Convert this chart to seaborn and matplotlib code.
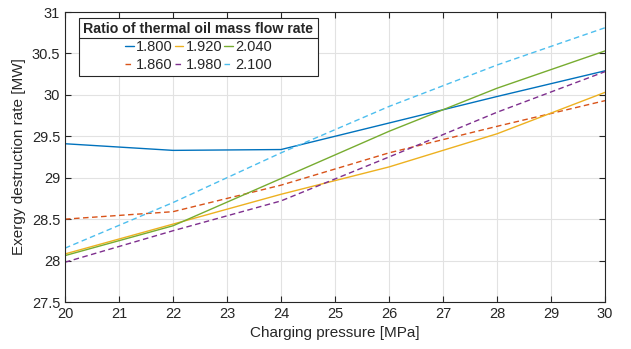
import matplotlib
matplotlib.use("Agg")
from matplotlib import pyplot as plt
import numpy as np
import pandas as pd
import seaborn as sns

# charging pressure [MPa]
pressure = [20, 22, 24, 26, 28, 30]

# exergy destruction rate [MW] for each mass flow ratio
ratio_labels = ["1.800", "1.860", "1.920", "1.980", "2.040", "2.100"]
ed_1800 = [29.41, 29.33, 29.34, 29.66, 29.98, 30.29]
ed_1860 = [28.50, 28.59, 28.91, 29.30, 29.62, 29.93]
ed_1920 = [28.08, 28.44, 28.80, 29.13, 29.53, 30.03]
ed_1980 = [27.98, 28.36, 28.72, 29.25, 29.79, 30.28]
ed_2040 = [28.06, 28.42, 28.99, 29.56, 30.08, 30.53]
ed_2100 = [28.15, 28.70, 29.30, 29.86, 30.36, 30.81]

series = [ed_1800, ed_1860, ed_1920, ed_1980, ed_2040, ed_2100]
colors = ["#0072BD", "#D95319", "#EDB120", "#7E2F8E", "#77AC30", "#4DBEEE"]

rows = []
for label, values in zip(ratio_labels, series):
    for p, v in zip(pressure, values):
        rows.append({"pressure": p, "ed": v, "ratio": label})
df = pd.DataFrame(rows)

sns.set_style("ticks")
plt.rcParams['font.family'] = ['Liberation Sans', 'DejaVu Sans']

fig = plt.figure(figsize=(6.31, 3.49), dpi=100)
ax = fig.add_axes([65 / 631, 47 / 349, 540 / 631, 290 / 349])

dash_map = {lab: ("" if i % 2 == 0 else (4, 2.5)) for i, lab in enumerate(ratio_labels)}
sns.lineplot(data=df, x="pressure", y="ed", hue="ratio", style="ratio",
             palette=dict(zip(ratio_labels, colors)), dashes=dash_map,
             linewidth=1.0, ax=ax)

ax.set_xlim(20, 30)
ax.set_ylim(27.5, 31)
ax.set_xticks(np.arange(20, 31, 1))
ax.set_yticks(np.arange(27.5, 31.01, 0.5))
ax.set_yticklabels(["27.5", "28", "28.5", "29", "29.5", "30", "30.5", "31"])
ax.grid(True, color="#e2e2e2", linewidth=0.8)
ax.set_axisbelow(True)
for s in ax.spines.values():
    s.set_color("#262626")
    s.set_linewidth(0.8)
ax.tick_params(direction="in", top=True, right=True, length=4,
               labelsize=10.5, colors="#262626")
ax.set_xlabel("Charging pressure [MPa]", fontsize=11, color="#262626")
ax.set_ylabel("Exergy destruction rate [MW]", fontsize=11, color="#262626")

handles, labels = ax.get_legend_handles_labels()
leg = ax.legend(handles, labels, ncol=3, loc="upper left",
                bbox_to_anchor=(0.026, 0.979), borderaxespad=0,
                title="Ratio of thermal oil mass flow rate",
                title_fontproperties={"weight": "bold", "size": 10.2},
                fontsize=10.5, handlelength=0.6, handletextpad=0.15,
                columnspacing=0.15, labelspacing=0.25, borderpad=0.3,
                frameon=True, fancybox=False, framealpha=1,
                edgecolor="#262626")
leg.get_frame().set_linewidth(0.8)

# separator line under the legend title
fig.canvas.draw()
bb = leg.get_window_extent()
tb = leg.get_title().get_window_extent()
inv = fig.transFigure.inverted()
(x0, y0) = inv.transform((bb.x0, tb.y0 - 2))
(x1, _) = inv.transform((bb.x1, tb.y0 - 2))
fig.add_artist(plt.Line2D([x0, x1], [y0, y0], color="#262626", linewidth=0.8))

fig.savefig("out.png", dpi=100)
